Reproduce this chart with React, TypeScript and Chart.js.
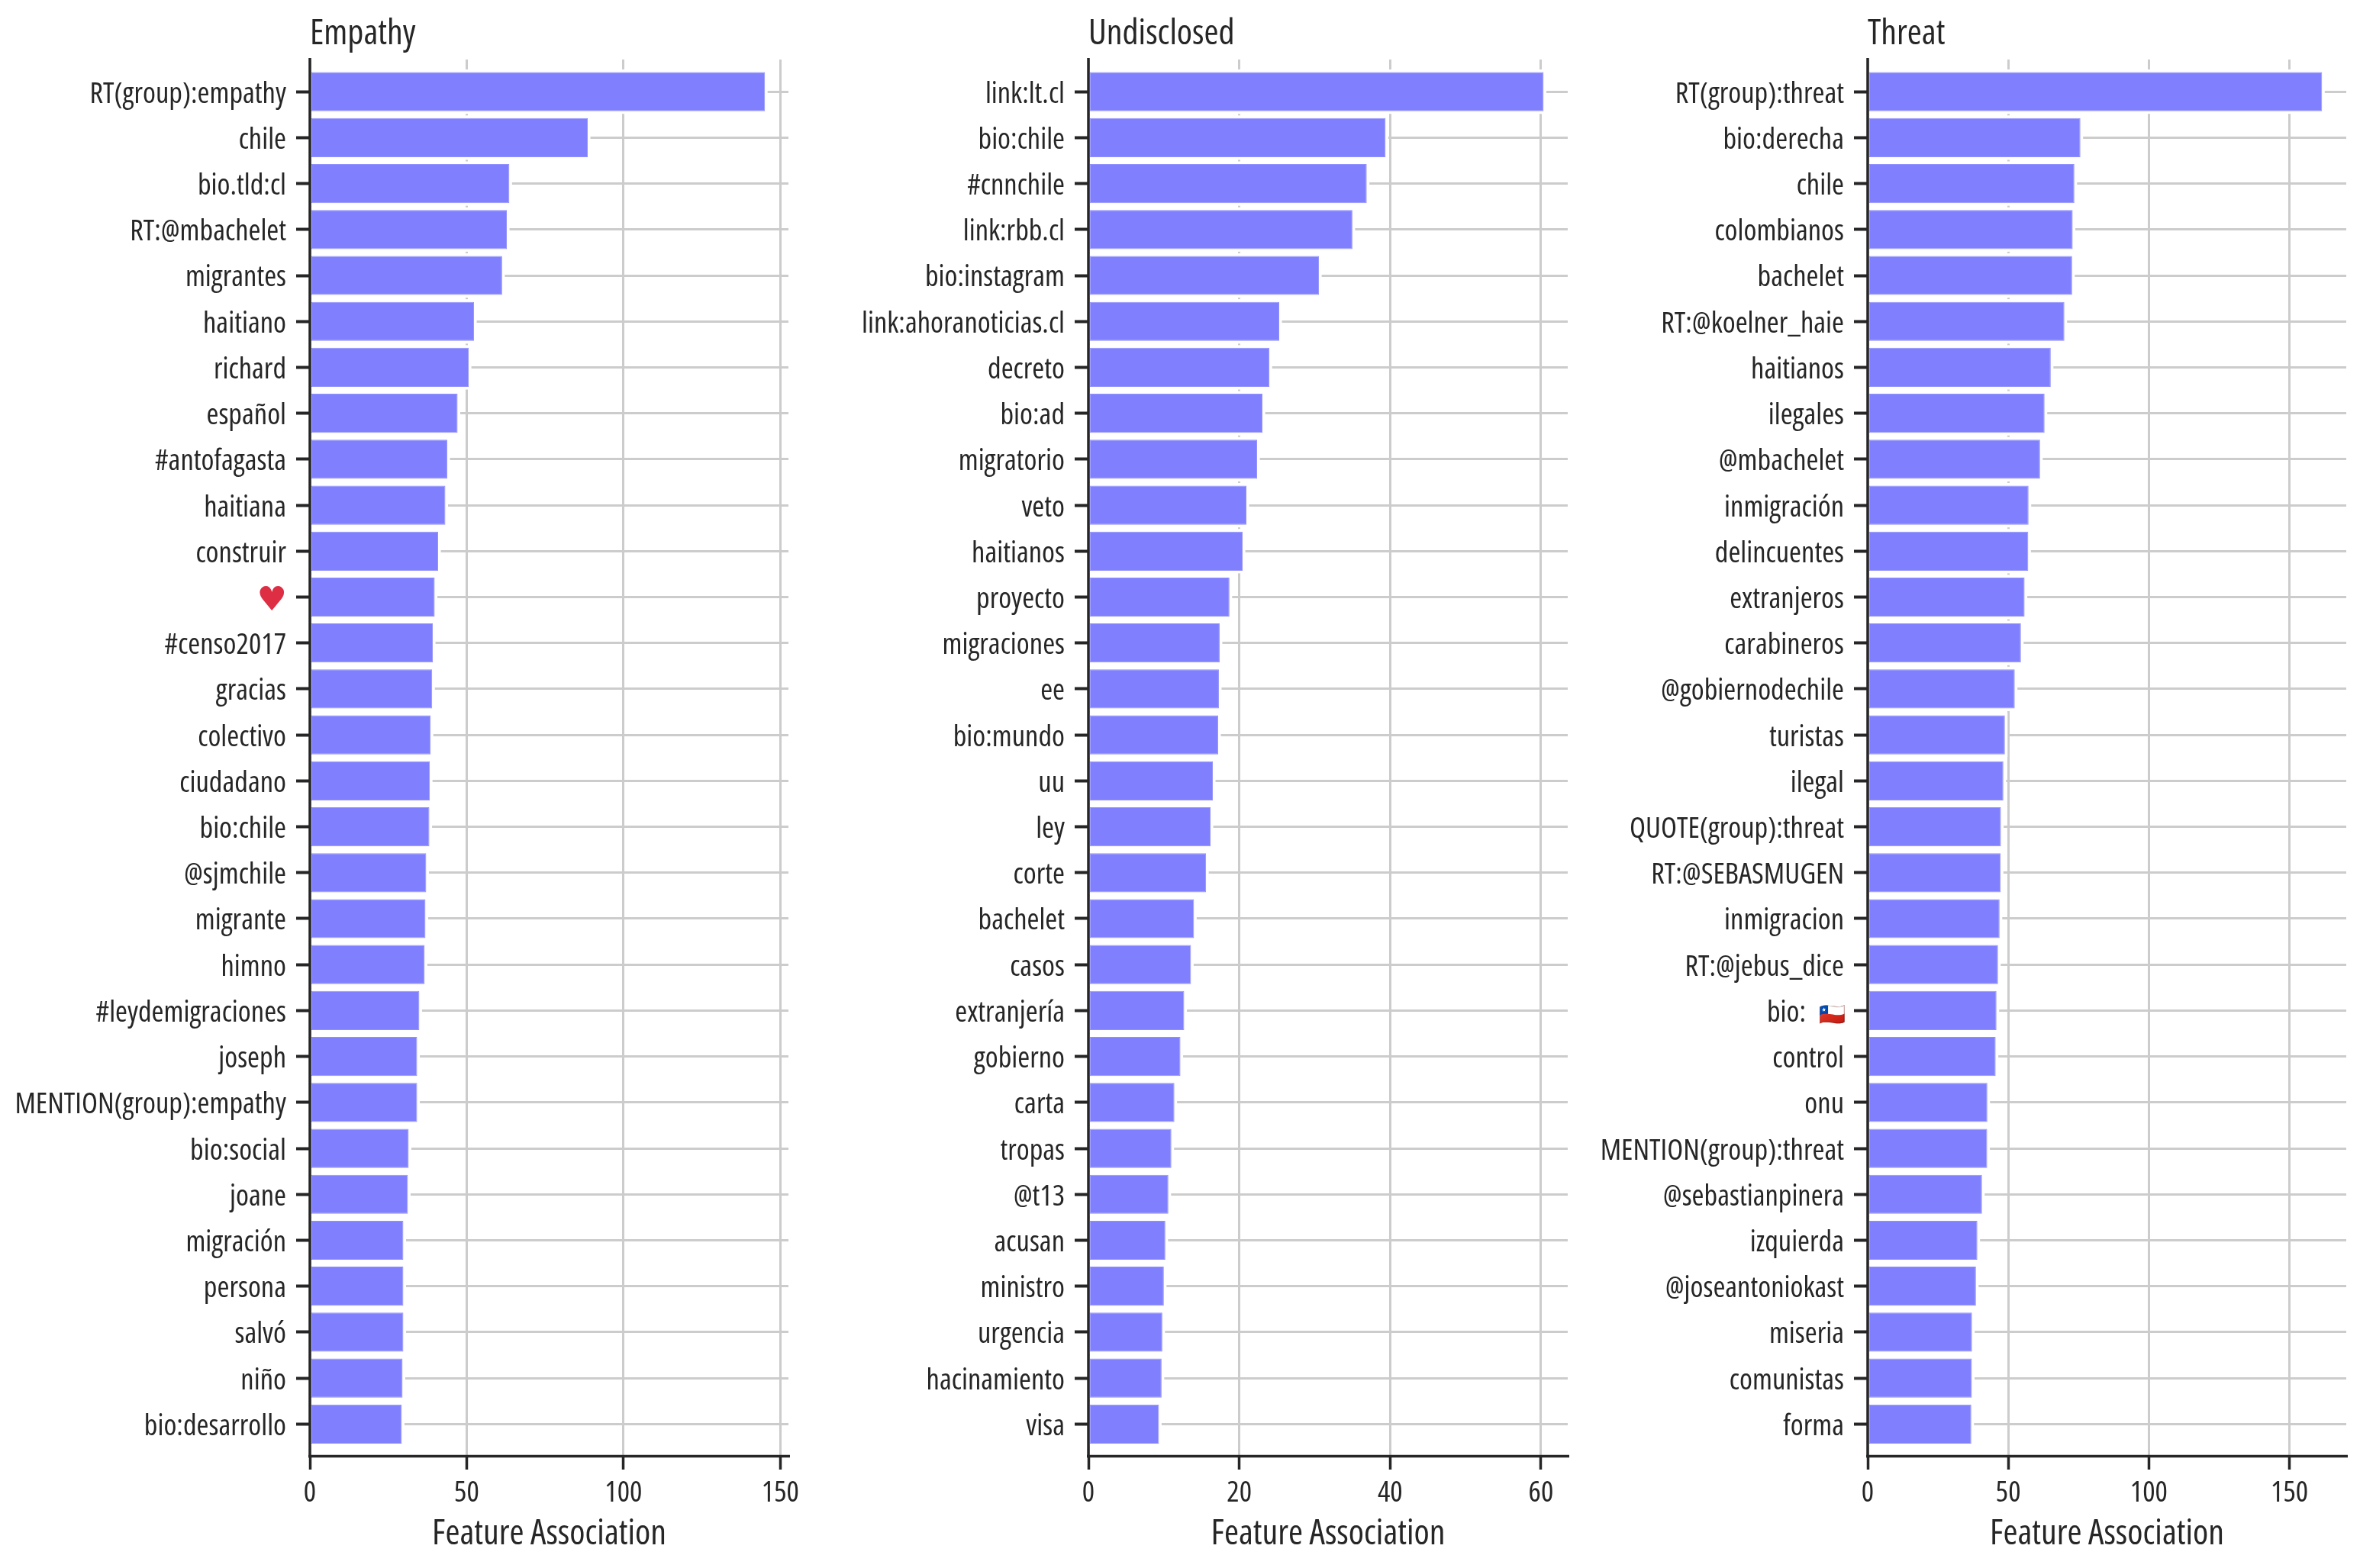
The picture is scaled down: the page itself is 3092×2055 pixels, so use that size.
import React, { useEffect, useRef } from "react";
import { Chart, registerables } from "chart.js";

Chart.register(...registerables);

const FLAG = "\u{1F1E8}\u{1F1F1}";
const HEART = "\u2665";
const BIO_FLAG = "bio:\u00A0\u00A0\u00A0\u00A0\u00A0\u00A0\u00A0";

const empathyLabels = ["RT(group):empathy","chile","bio.tld:cl","RT:@mbachelet","migrantes","haitiano","richard","español","#antofagasta","haitiana","construir",HEART,"#censo2017","gracias","colectivo","ciudadano","bio:chile","@sjmchile","migrante","himno","#leydemigraciones","joseph","MENTION(group):empathy","bio:social","joane","migración","persona","salvó","niño","bio:desarrollo"];
const empathyValues = [145.1,88.6,63.6,62.8,61.3,52.35,50.65,47.1,43.8,43.2,40.9,39.8,39.2,39.0,38.5,38.25,38.1,37.1,36.85,36.6,34.9,34.2,34.2,31.5,31.25,29.8,29.8,29.8,29.55,29.3];

const undisclosedLabels = ["link:lt.cl","bio:chile","#cnnchile","link:rbb.cl","bio:instagram","link:ahoranoticias.cl","decreto","bio:ad","migratorio","veto","haitianos","proyecto","migraciones","ee","bio:mundo","uu","ley","corte","bachelet","casos","extranjería","gobierno","carta","tropas","@t13","acusan","ministro","urgencia","hacinamiento","visa"];
const undisclosedValues = [60.35,39.4,36.9,35.0,30.57,25.3,24.0,23.08,22.37,20.95,20.45,18.7,17.4,17.3,17.2,16.5,16.2,15.6,14.0,13.6,12.7,12.2,11.4,11.0,10.6,10.2,10.0,9.8,9.7,9.35];

const threatLabels = ["RT(group):threat","bio:derecha","chile","colombianos","bachelet","RT:@koelner_haie","haitianos","ilegales","@mbachelet","inmigración","delincuentes","extranjeros","carabineros","@gobiernodechile","turistas","ilegal","QUOTE(group):threat","RT:@SEBASMUGEN","inmigracion","RT:@jebus_dice",BIO_FLAG,"control","onu","MENTION(group):threat","@sebastianpinera","izquierda","@joseantoniokast","miseria","comunistas","forma"];
const threatValues = [161.6,75.65,73.5,72.9,72.7,69.95,65.1,62.9,61.3,57.2,57.1,55.8,54.5,52.3,48.8,48.25,47.4,47.3,46.9,46.35,45.8,45.5,42.55,42.5,40.65,39.0,38.5,37.1,37.05,36.85];

const FAMILY = '"Open Sans"';
const INK = "#262626";
const GRID = "#cccccc";
const BAR = "#8080ff";

const haloPlugin = {
  id: "halo",
  beforeDatasetsDraw(chart: any) {
    const ctx = chart.ctx;
    const meta = chart.getDatasetMeta(0);
    ctx.save();
    ctx.fillStyle = "#ffffff";
    for (const el of meta.data) {
      const p = el.getProps(["x", "y", "base", "height"], true);
      ctx.fillRect(p.base, p.y - p.height / 2 - 3.5, p.x - p.base + 3.5, p.height + 7);
    }
    ctx.restore();
  },
};

const spinePlugin = {
  id: "spines",
  afterDraw(chart: any) {
    const { ctx, chartArea: a } = chart;
    ctx.save();
    ctx.strokeStyle = INK;
    ctx.lineWidth = 3.5;
    ctx.beginPath();
    ctx.moveTo(a.left, a.top - 2);
    ctx.lineTo(a.left, a.bottom + 2);
    ctx.moveTo(a.left - 2, a.bottom);
    ctx.lineTo(a.right + 2, a.bottom);
    ctx.stroke();
    ctx.restore();
  },
};

const symbolPlugin = {
  id: "symbolLabels",
  afterDraw(chart: any) {
    const labels: string[] = chart.data.labels;
    const { ctx, chartArea: a } = chart;
    const yScale = chart.scales.y;
    ctx.save();
    ctx.textAlign = "right";
    ctx.textBaseline = "middle";
    const flagAt = labels.indexOf(BIO_FLAG);
    if (flagAt >= 0) {
      ctx.font = '28px "Noto Color Emoji", "Noto Sans"';
      ctx.fillStyle = "#000";
      ctx.fillText(FLAG, a.left - 29, yScale.getPixelForValue(flagAt) + 6);
    }
    const heartAt = labels.indexOf(HEART);
    if (heartAt >= 0) {
      ctx.font = '44px "DejaVu Sans"';
      ctx.fillStyle = "#dd2e44";
      ctx.fillText(HEART, a.left - 30, yScale.getPixelForValue(heartAt) + 6);
    }
    ctx.restore();
  },
};

type Panel = {
  title: string;
  labels: string[];
  values: number[];
  max: number;
  step: number;
  canvasLeft: number;
  canvasWidth: number;
  axisLeft: number;
  axisRight: number;
};

const panels: Panel[] = [
  { title: "Empathy", labels: empathyLabels, values: empathyValues, max: 152.6, step: 50, canvasLeft: 0, canvasWidth: 1060, axisLeft: 406, axisRight: 1033 },
  { title: "Undisclosed", labels: undisclosedLabels, values: undisclosedValues, max: 63.55, step: 20, canvasLeft: 1060, canvasWidth: 1020, axisLeft: 1426, axisRight: 2054 },
  { title: "Threat", labels: threatLabels, values: threatValues, max: 170.2, step: 50, canvasLeft: 2080, canvasWidth: 1012, axisLeft: 2447, axisRight: 3074 },
];

function PanelChart({ p }: { p: Panel }) {
  const ref = useRef<HTMLCanvasElement>(null);
  useEffect(() => {
    const labels = p.labels;
    const chart = new Chart(ref.current!, {
      type: "bar",
      data: {
        labels,
        datasets: [
          {
            data: p.values.map((v, i) => ({ x: v, y: i })),
            backgroundColor: BAR,
            borderColor: "#9090ff",
            borderWidth: 1,
            borderSkipped: false,
            barPercentage: 0.85,
            categoryPercentage: 1,
          },
        ],
      },
      options: {
        indexAxis: "y",
        responsive: false,
        animation: false,
        events: [],
        layout: { padding: { left: 0, top: 0, bottom: 0, right: p.canvasLeft + p.canvasWidth - p.axisRight } },
        plugins: {
          legend: { display: false },
          tooltip: { enabled: false },
          title: {
            display: true,
            text: p.title,
            align: "start",
            fullSize: false,
            color: INK,
            font: { family: FAMILY, size: 46, weight: "condensed" as any },
            padding: { top: 17, bottom: 5.8 },
          },
        },
        scales: {
          x: {
            type: "linear",
            min: 0,
            max: p.max,
            afterFit(s: any) {
              s.height = 146.5;
              s.paddingLeft = 0;
              s.paddingRight = 0;
            },
            ticks: {
              stepSize: p.step,
              includeBounds: false,
              color: INK,
              padding: 8,
              maxRotation: 0,
              font: { family: FAMILY, size: 38.5, weight: "condensed" as any },
            },
            grid: { color: GRID, lineWidth: 3, tickColor: INK, tickWidth: 3.5, tickLength: 17.5 },
            border: { display: false },
            title: {
              display: true,
              text: "Feature Association",
              color: INK,
              font: { family: FAMILY, size: 46, weight: "condensed" as any },
              padding: { top: 0, bottom: 17 },
            },
          },
          y: {
            type: "linear",
            reverse: true,
            min: -0.7,
            max: 29.7,
            offset: false,
            afterBuildTicks(s: any) {
              s.ticks = labels.map((_, i) => ({ value: i }));
            },
            afterFit(s: any) {
              s.width = p.axisLeft - p.canvasLeft;
              s.paddingTop = 0;
              s.paddingBottom = 0;
            },
            ticks: {
              autoSkip: false,
              padding: 13,
              labelOffset: 3.5,
              color: INK,
              font: { family: FAMILY, size: 38.5, weight: "condensed" as any },
              callback: (v: any) => (labels[v] === HEART ? "" : labels[v]),
            },
            grid: { offset: false, color: GRID, lineWidth: 3, tickColor: INK, tickWidth: 4, tickLength: 18 },
            border: { display: false },
          },
        },
      } as any,
      plugins: [haloPlugin, spinePlugin, symbolPlugin],
    });
    return () => chart.destroy();
  }, [p]);
  return (
    <canvas
      ref={ref}
      width={p.canvasWidth}
      height={2055}
      style={{ position: "absolute", left: p.canvasLeft, top: 0, display: "block" }}
    />
  );
}

export default function App() {
  return (
    <div style={{ position: "absolute", left: 0, top: 0, width: 3092, height: 2055, background: "#fff", overflow: "hidden" }}>
      {panels.map((p) => (
        <PanelChart key={p.title} p={p} />
      ))}
    </div>
  );
}
